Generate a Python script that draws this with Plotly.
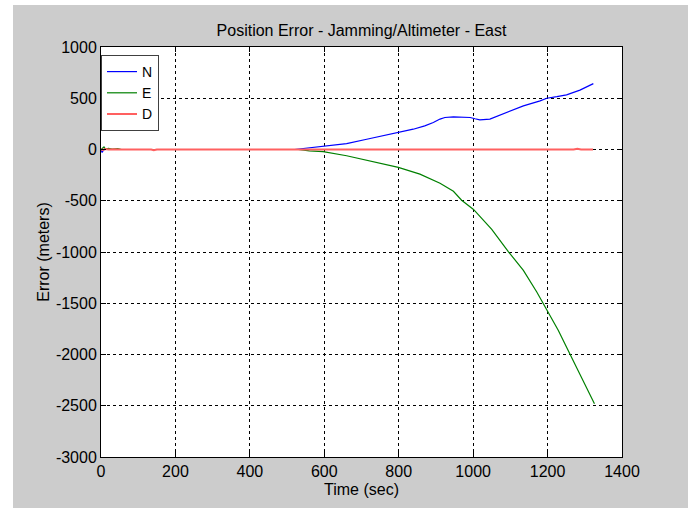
import plotly.graph_objects as go

# ---- data ----
t_N = [0, 3, 6, 10, 15, 25, 40, 50, 520, 545, 597, 660, 714, 760, 799, 839, 870, 893, 911, 924,
       947, 970, 992, 1005, 1018, 1045, 1090, 1135, 1180, 1198, 1225, 1251, 1287, 1323]
v_N = [0, -30, -10, 5, 0, 2, 0, 0, 0, 10, 26, 58, 100, 135, 165, 198, 230, 263, 297, 312,
       318, 314, 312, 300, 290, 297, 361, 426, 475, 500, 515, 533, 579, 643]

t_E = [0, 4, 8, 12, 20, 30, 45, 55, 530, 560, 597, 660, 714, 760, 799, 857, 911, 947, 969,
       1001, 1018, 1050, 1095, 1135, 1171, 1198, 1229, 1260, 1287, 1326]
v_E = [0, 15, 25, 5, 10, 3, 8, 0, 0, -13, -20, -61, -103, -140, -175, -240, -330, -408, -495,
       -585, -650, -780, -998, -1180, -1390, -1570, -1765, -1995, -2190, -2480]

t_D = [0, 5, 12, 20, 35, 50, 135, 142, 150, 600, 900, 1000, 1100, 1270, 1280, 1290, 1322]
v_D = [0, -5, 5, 0, 3, 0, 0, -8, 0, 0, 3, 3, 3, 0, 8, 0, 0]

x_ticks = [0, 200, 400, 600, 800, 1000, 1200, 1400]
y_ticks = [1000, 500, 0, -500, -1000, -1500, -2000, -2500, -3000]

FONT = "Liberation Sans Narrow, Liberation Sans, Arial, sans-serif"
FS = 16

fig = go.Figure()
fig.add_trace(go.Scatter(x=t_N, y=v_N, mode="lines", name="N", line=dict(color="#0000ff", width=1.2)))
fig.add_trace(go.Scatter(x=t_E, y=v_E, mode="lines", name="E", line=dict(color="#008000", width=1.2)))
fig.add_trace(go.Scatter(x=t_D, y=v_D, mode="lines", name="D", line=dict(color="#ff6060", width=2)))

W, H = 688, 508
L, R, T, B = 101, 66, 47, 51
pw, ph = W - L - R, H - T - B

axis_common = dict(
    showgrid=True, gridcolor="black", gridwidth=1, griddash="3px,3px",
    showline=True, linecolor="black", linewidth=1, mirror="ticks",
    ticks="inside", ticklen=5, tickcolor="black", zeroline=False,
    tickfont=dict(family=FONT, size=FS, color="black"),
)

fig.update_layout(
    width=W, height=H,
    margin=dict(l=L, r=R, t=T, b=B, autoexpand=False),
    paper_bgcolor="#cccccc", plot_bgcolor="white",
    font=dict(family=FONT, size=FS, color="black"),
    title=dict(text="Position Error - Jamming/Altimeter - East", x=(L + pw / 2) / W, xanchor="center",
               y=1 - 30 / H, yanchor="middle", yref="container",
               font=dict(family=FONT, size=FS, color="black")),
    xaxis=dict(range=[0, 1400], tickvals=x_ticks, ticktext=[str(v) for v in x_ticks],
               title=dict(text="Time (sec)", standoff=4, font=dict(family=FONT, size=FS)),
               **axis_common),
    yaxis=dict(range=[-3000, 1000], tickvals=y_ticks, ticktext=[str(v) for v in y_ticks],
               title=dict(text="Error (meters)", standoff=2, font=dict(family=FONT, size=FS)),
               **axis_common),
    legend=dict(x=0, y=1 - 8 / ph, xanchor="left", yanchor="top", bgcolor="white",
                bordercolor="#404040", borderwidth=1, font=dict(family=FONT, size=14),
                itemwidth=30, tracegroupgap=0),
    showlegend=True,
    shapes=[
        dict(type="rect", xref="paper", yref="paper", layer="below", line=dict(width=0),
             fillcolor="white", x0=-L / pw - 0.01, x1=(13 - L) / pw, y0=-B / ph - 0.01, y1=(H - T) / ph + 0.01),
        dict(type="rect", xref="paper", yref="paper", layer="below", line=dict(width=0),
             fillcolor="white", x0=-L / pw - 0.01, x1=(W - L) / pw + 0.01, y0=(H - T - 9) / ph, y1=(H - T) / ph + 0.01),
    ],
)

fig.write_html("out.html")
